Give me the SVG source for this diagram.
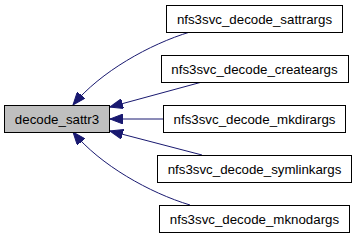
<svg xmlns="http://www.w3.org/2000/svg" width="357" height="240" viewBox="0 0 357 240">
  <style>
    .box { fill: #ffffff; stroke: #000000; stroke-width: 1; }
    .root { fill: #bfbfbf; stroke: #000000; stroke-width: 1; }
    .label { font-family: "Liberation Sans", Arial, sans-serif; font-size: 13.3px; fill: #000000; text-anchor: middle; }
    .edge { fill: none; stroke: #191970; stroke-width: 1; }
  </style>
  <defs>
    <marker id="arrow" viewBox="0 0 13 10" refX="13" refY="5" markerWidth="13" markerHeight="10" markerUnits="userSpaceOnUse" orient="auto">
      <path d="M0,0 L13,5 L0,10 z" fill="#191970" stroke="#191970" stroke-width="1"/>
    </marker>
  </defs>
  <rect width="357" height="240" fill="#ffffff"/>

  <g id="edges">
    <path class="edge" marker-end="url(#arrow)" d="M190,32 C150,44 100,72 73,105"/>
    <path class="edge" marker-end="url(#arrow)" d="M202,82 L110,107"/>
    <path class="edge" marker-end="url(#arrow)" d="M163,119 L110,119"/>
    <path class="edge" marker-end="url(#arrow)" d="M202,155 L110,131"/>
    <path class="edge" marker-end="url(#arrow)" d="M190,205 C150,193 100,165 73,132"/>
  </g>

  <g id="decode_sattr3">
    <rect class="root" x="4.5" y="105.5" width="105" height="27"/>
    <text class="label" x="57" y="124">decode_sattr3</text>
  </g>
  <g id="nfs3svc_decode_sattrargs">
    <rect class="box" x="166.5" y="5.5" width="176" height="27"/>
    <text class="label" x="254.5" y="24">nfs3svc_decode_sattrargs</text>
  </g>
  <g id="nfs3svc_decode_createargs">
    <rect class="box" x="161.5" y="55.5" width="187" height="27"/>
    <text class="label" x="254.5" y="74">nfs3svc_decode_createargs</text>
  </g>
  <g id="nfs3svc_decode_mkdirargs">
    <rect class="box" x="163.5" y="105.5" width="182" height="27"/>
    <text class="label" x="254.5" y="124">nfs3svc_decode_mkdirargs</text>
  </g>
  <g id="nfs3svc_decode_symlinkargs">
    <rect class="box" x="157.5" y="155.5" width="194" height="27"/>
    <text class="label" x="254.5" y="174">nfs3svc_decode_symlinkargs</text>
  </g>
  <g id="nfs3svc_decode_mknodargs">
    <rect class="box" x="159.5" y="205.5" width="190" height="27"/>
    <text class="label" x="254.5" y="224">nfs3svc_decode_mknodargs</text>
  </g>
</svg>
